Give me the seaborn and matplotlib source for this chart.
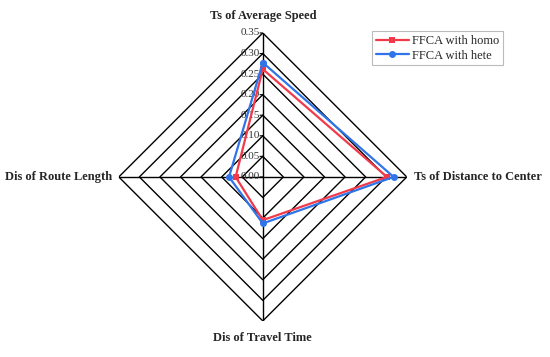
import numpy as np
import pandas as pd
import matplotlib
matplotlib.use('Agg')
import matplotlib.pyplot as plt
import seaborn as sns

# data
metrics = ['Ts of Average Speed', 'Ts of Distance to Center',
           'Dis of Travel Time', 'Dis of Route Length']
homo = [0.262, 0.302, 0.105, 0.066]
hete = [0.278, 0.318, 0.113, 0.082]
series_names = ['FFCA with homo', 'FFCA with hete']
rticks = [0.00, 0.05, 0.10, 0.15, 0.20, 0.25, 0.30, 0.35]

sns.set_style('white')
plt.rcParams['font.family'] = ['Liberation Serif', 'DejaVu Serif']

angles = np.linspace(0, 2 * np.pi, len(metrics), endpoint=False)

rows = []
for name, vals in zip(series_names, [homo, hete]):
    for a, v in zip(list(angles) + [angles[0]], vals + [vals[0]]):
        rows.append({'theta': a, 'value': v, 'series': name})
df = pd.DataFrame(rows)

fig = plt.figure(figsize=(5.5, 3.57), dpi=100)
ax = fig.add_axes([0.216, 0.101, 0.5236, 0.8067], projection='polar')
ax.set_theta_zero_location('N')
ax.set_theta_direction(-1)
ax.set_ylim(0, 0.35)
ax.grid(False)
ax.spines['polar'].set_visible(False)
ax.set_xticks([])
ax.set_yticks([])

# diamond grid + spokes
for r in rticks[1:]:
    ax.plot(list(angles) + [angles[0]], [r] * (len(angles) + 1),
            color='black', lw=1.0, zorder=1)
for a in angles:
    ax.plot([a, a], [0, 0.35], color='black', lw=1.0, zorder=1)

# radial tick labels on the top spoke
for r in rticks:
    ax.annotate('%.2f' % r, xy=(0, r), xytext=(-2, 0), textcoords='offset points',
                ha='right', va='center', fontsize=8, color='#333333', zorder=2)
    ax.annotate('', xy=(0, r), xytext=(-2, 0), textcoords='offset points',
                arrowprops=dict(arrowstyle='-', lw=0.8, color='black'))

pal = {'FFCA with homo': '#F2394A', 'FFCA with hete': '#2F74E8'}
sns.lineplot(data=df, x='theta', y='value', hue='series', style='series',
             markers={'FFCA with homo': 's', 'FFCA with hete': 'o'},
             dashes=False, sort=False, estimator=None, palette=pal,
             lw=1.6, markersize=5, markeredgewidth=0, ax=ax, zorder=3)
ax.set_xlabel('')
ax.set_ylabel('')

# axis names
pad = {0: (0, 8, 'center', 'bottom'), 1: (5, 0, 'left', 'center'),
       2: (0, -8, 'center', 'top'), 3: (-5, 0, 'right', 'center')}
for i, (a, m) in enumerate(zip(angles, metrics)):
    dx, dy, ha, va = pad[i]
    ax.annotate(m, xy=(a, 0.35), xytext=(dx, dy), textcoords='offset points',
                ha=ha, va=va, fontsize=9, fontweight='bold', annotation_clip=False)

leg = ax.legend(loc='upper right', bbox_to_anchor=(0.915, 0.912),
                bbox_transform=fig.transFigure, fontsize=9, frameon=True,
                fancybox=False, handlelength=2.6, borderpad=0.3,
                labelspacing=0.2, handletextpad=0.3, borderaxespad=0)
leg.get_frame().set_edgecolor('#AAAAAA')
leg.get_frame().set_linewidth(0.8)

fig.savefig('out.png', dpi=100)
